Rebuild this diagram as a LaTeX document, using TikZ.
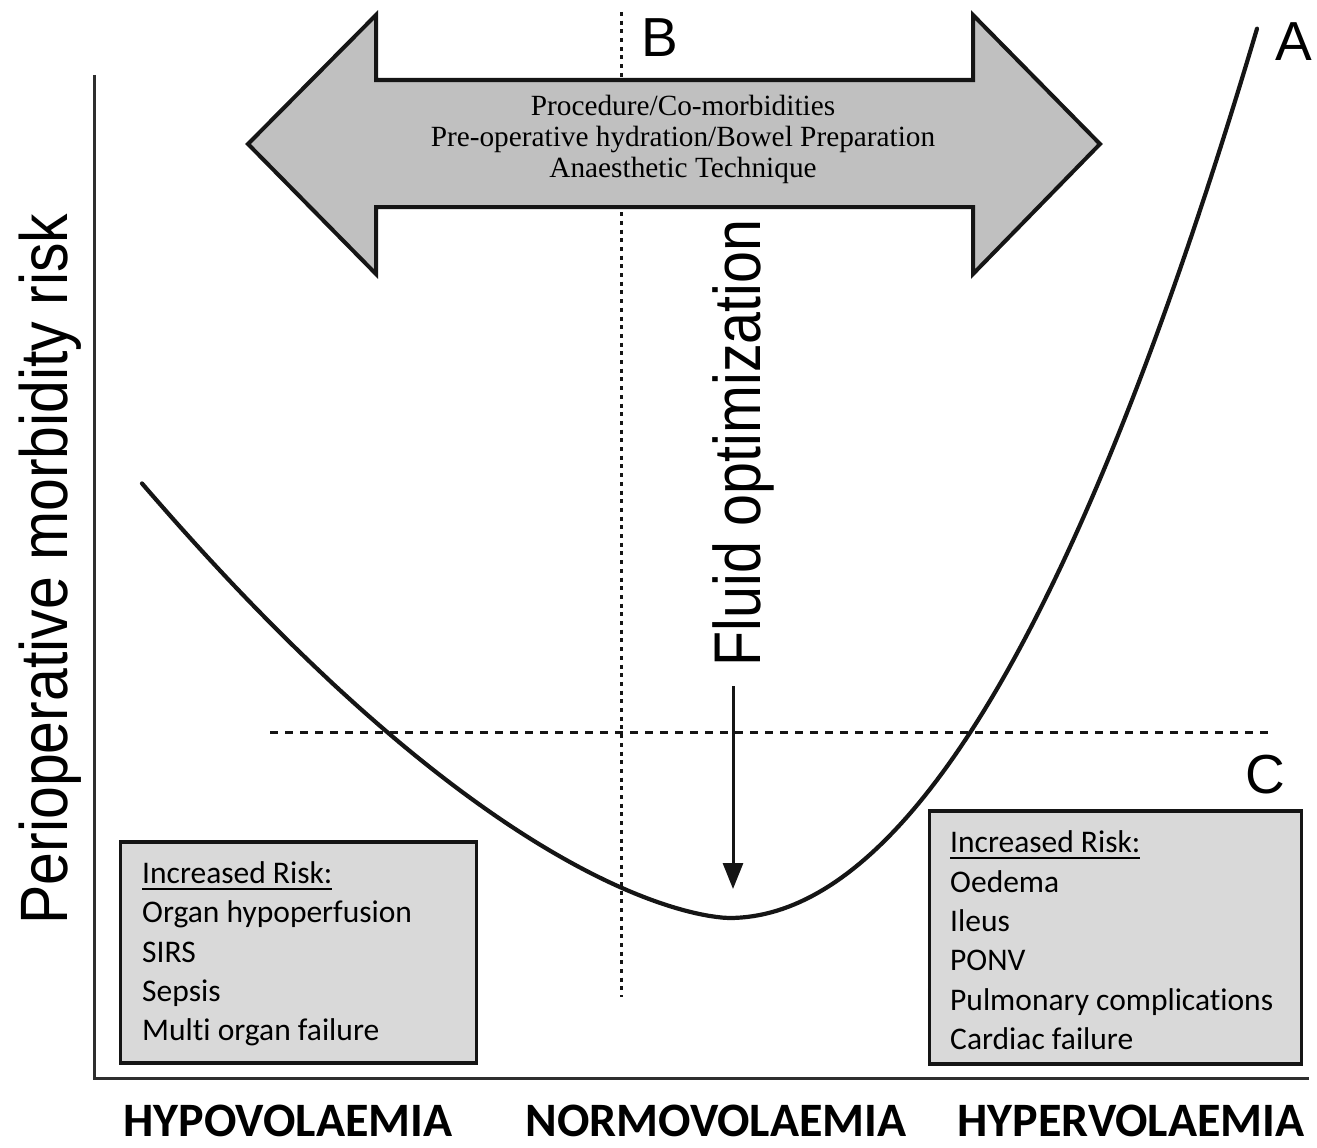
\documentclass[tikz,border=0pt]{standalone}
\usepackage{fontspec}
\setmainfont{Carlito}[Ligatures=NoCommon]
\newfontfamily\arialf{Liberation Sans}
\newfontfamily\seriff{Liberation Serif}
\usetikzlibrary{arrows.meta}
\definecolor{arrowgray}{HTML}{C0C0C0}
\definecolor{boxgray}{HTML}{D9D9D9}
\definecolor{axisgray}{HTML}{2E2E2E}
\definecolor{inkblack}{HTML}{151515}
\newcommand\riskul[1]{\setbox0\hbox{#1}\rlap{\rule[-7.3pt]{\wd0}{2.4pt}}\box0}
\begin{document}
\begin{tikzpicture}[x=1pt,y=-1pt,
  riskbox/.style={draw=inkblack, line width=3.5pt, fill=boxgray, inner sep=0pt},
  risktext/.style={anchor=base west, inner sep=0pt, font=\fontsize{31.5}{39}\selectfont},
  arrowtext/.style={anchor=base, inner sep=0pt, font=\seriff\fontsize{29.3}{31}\selectfont},
  letterlabel/.style={anchor=base west, inner sep=0pt, font=\arialf\fontsize{55}{55}\selectfont},
  axislabel/.style={anchor=base, inner sep=0pt, font=\bfseries\fontsize{48}{48}\selectfont},
  dottedline/.style={line width=3pt, dash pattern=on 4pt off 4.7pt, inkblack},
  dashedline/.style={line width=3pt, dash pattern=on 8pt off 7pt, inkblack}]
\useasboundingbox (0,0) rectangle (1317,1148);

% axes
\coordinate (origin) at (94,1078);
\coordinate (ytop) at (94,75);
\coordinate (xend) at (1309,1078);
\draw[axisgray, line width=3pt] (ytop) -- (origin) -- (xend);

% reference lines
\coordinate (btop) at (621,12);
\coordinate (bbot) at (621,997);
\draw[dottedline] (btop) -- (bbot);
\coordinate (cleft) at (270,732);
\coordinate (cright) at (1272,732);
\draw[dashedline] (cleft) -- (cright);

% double arrow
\draw[inkblack, line width=4pt, fill=arrowgray, line join=miter]
  (248,144) -- (376,15) -- (376,80) -- (973,80) -- (973,15) -- (1100,144)
  -- (973,274) -- (973,207) -- (376,207) -- (376,274) -- cycle;
\node[arrowtext] (t1) at (683,115) {Procedure/Co-morbidities};
\node[arrowtext] (t2) at (683,146) {Pre-operative hydration/Bowel Preparation};
\node[arrowtext] (t3) at (683,177) {Anaesthetic Technique};

% risk curve
\draw[inkblack, line width=4.2pt, line cap=round]
  plot[domain=142:728.99, samples=90] (\x, {918-27.0*((729-\x)/100)^1.57})
  -- plot[domain=729:1257, samples=90] (\x, {918-31.9*((\x-729)/100)^2});

% letters
\node[letterlabel] (labB) at (641,57) {B};
\node[letterlabel] (labA) at (1275,60) {A};
\node[letterlabel] (labC) at (1245,793) {C};

% y label
\node[anchor=base, inner sep=0pt, rotate=90] (ylab) at (67,569)
  {\scalebox{0.88}[1]{\arialf\fontsize{67}{67}\selectfont Perioperative morbidity risk}};

% fluid optimization
\node[anchor=base, inner sep=0pt, rotate=90] (fluid) at (760,443)
  {\scalebox{0.87}[1]{\arialf\fontsize{66}{66}\selectfont Fluid optimization}};
\coordinate (fluidtip) at (733,889);
\draw[inkblack, line width=3pt, -{Triangle[length=26pt, width=20pt]}]
  (733,686) -- (fluidtip);

% left box
\node[riskbox, minimum width=356pt, minimum height=221pt] (lbox) at (298.5,952.5) {};
\node[risktext] (l1) at (142,883) {\riskul{Increased Risk:}};
\node[risktext] (l2) at (142,922) {Organ hypoperfusion};
\node[risktext] (l3) at (142,962) {SIRS};
\node[risktext] (l4) at (142,1001) {Sepsis};
\node[risktext] (l5) at (142,1040) {Multi organ failure};

% right box
\node[riskbox, minimum width=372pt, minimum height=253pt] (rbox) at (1115.5,937.5) {};
\node[risktext] (r1) at (950,852) {\riskul{Increased Risk:}};
\node[risktext] (r2) at (950,892) {Oedema};
\node[risktext] (r3) at (950,931) {Ileus};
\node[risktext] (r4) at (950,970) {PONV};
\node[risktext] (r5) at (950,1010) {Pulmonary complications};
\node[risktext] (r6) at (950,1049) {Cardiac failure};

% x labels
\node[axislabel] (hypo) at (288,1136) {HYPOVOLAEMIA};
\node[axislabel] (normo) at (716,1136) {NORMOVOLAEMIA};
\node[axislabel] (hyper) at (1131,1136) {HYPERVOLAEMIA};
\end{tikzpicture}
\end{document}
